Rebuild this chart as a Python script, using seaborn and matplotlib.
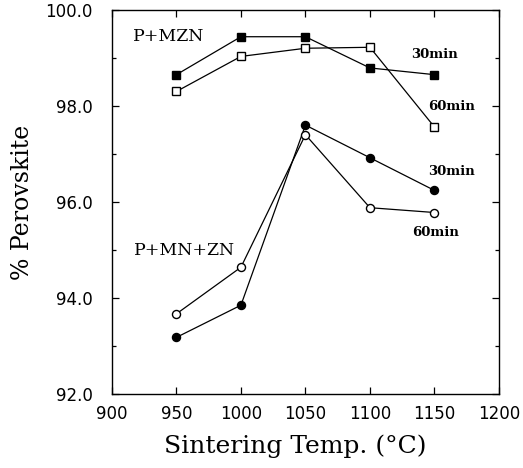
import matplotlib
matplotlib.use("Agg")
import matplotlib.pyplot as plt
import seaborn as sns
import pandas as pd
from matplotlib.ticker import MultipleLocator

temps = [950, 1000, 1050, 1100, 1150]
mzn_30 = [98.65, 99.44, 99.44, 98.79, 98.65]
mzn_60 = [98.30, 99.03, 99.20, 99.22, 97.56]
mnzn_30 = [93.18, 93.85, 97.60, 96.92, 96.24]
mnzn_60 = [93.67, 94.64, 97.40, 95.88, 95.78]

x_ticks = [900, 950, 1000, 1050, 1100, 1150, 1200]
y_ticks = [92.0, 94.0, 96.0, 98.0, 100.0]

sns.set_style("ticks")
plt.rcParams['font.family'] = ['DejaVu Sans']
plt.rcParams['text.color'] = 'black'
plt.rcParams['axes.labelcolor'] = 'black'
plt.rcParams['xtick.color'] = 'black'
plt.rcParams['ytick.color'] = 'black'

fig = plt.figure(figsize=(5.23, 4.68), dpi=100)
ax = fig.add_axes([0.214, 0.158, 0.74, 0.821])

series = [
    (mzn_30, 's', 'black'),
    (mzn_60, 's', 'white'),
    (mnzn_30, 'o', 'black'),
    (mnzn_60, 'o', 'white'),
]
for vals, mk, fc in series:
    df = pd.DataFrame({"T": temps, "P": vals})
    sns.lineplot(data=df, x="T", y="P", ax=ax, color='black', linewidth=0.9,
                 marker=mk, markersize=5.8, markerfacecolor=fc,
                 markeredgecolor='black', markeredgewidth=1.0)

ax.set_xlim(900, 1200)
ax.set_ylim(92, 100)
ax.set_xticks(x_ticks)
ax.set_xticklabels([str(t) for t in x_ticks])
ax.set_yticks(y_ticks)
ax.set_yticklabels([f"{v:.1f}" for v in y_ticks])
ax.yaxis.set_minor_locator(MultipleLocator(1.0))
ax.tick_params(direction='in', which='both', top=True, right=True,
               labelsize=12, length=5, width=0.9, colors='black')
ax.tick_params(axis='y', pad=14)
ax.tick_params(axis='x', pad=8)
ax.tick_params(which='minor', length=3)
for s in ax.spines.values():
    s.set_linewidth(1.0)
    s.set_color('black')

serif = 'DejaVu Serif'
ax.set_xlabel("Sintering Temp. (°C)", family=serif, fontsize=18, labelpad=8)
ax.xaxis.label.set_x(0.473)
ax.set_ylabel("% Perovskite", family=serif, fontsize=17, labelpad=8)

ax.text(916, 99.44, "P+MZN", family=serif, fontsize=12.5, va='center')
ax.text(917, 94.99, "P+MN+ZN", family=serif, fontsize=12.5, va='center')
ax.text(1132, 99.08, "30min", family=serif, fontsize=9.5, weight='bold', va='center')
ax.text(1145, 97.99, "60min", family=serif, fontsize=9.5, weight='bold', va='center')
ax.text(1145, 96.63, "30min", family=serif, fontsize=9.5, weight='bold', va='center')
ax.text(1133, 95.37, "60min", family=serif, fontsize=9.5, weight='bold', va='center')

fig.savefig("out.png", dpi=100)
